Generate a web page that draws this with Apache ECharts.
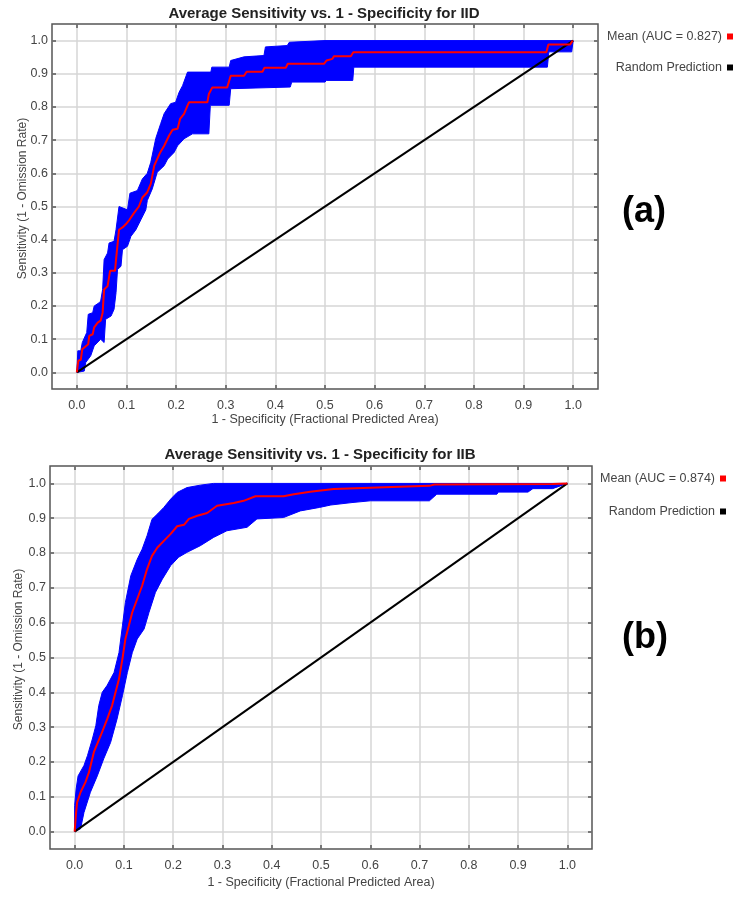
<!DOCTYPE html>
<html><head><meta charset="utf-8">
<script src="https://cdn.jsdelivr.net/npm/echarts@6/dist/echarts.min.js"></script>
<style>html,body{margin:0;padding:0;background:#fff}#c{width:745px;height:898px}</style>
</head><body><div id="c"></div>
<script>
// ---------- data ----------
const tickValues = [0, 0.1, 0.2, 0.3, 0.4, 0.5, 0.6, 0.7, 0.8, 0.9, 1.0];
const titleA = 'Average Sensitivity vs. 1 - Specificity for IID';
const titleB = 'Average Sensitivity vs. 1 - Specificity for IIB';
const xName = '1 - Specificity (Fractional Predicted Area)';
const yName = 'Sensitivity (1 - Omission Rate)';
const meanNameA = 'Mean (AUC = 0.827)';
const meanNameB = 'Mean (AUC = 0.874)';
const randomName = 'Random Prediction';
const randomLine = [[0, 0], [1, 1]];

const iidMean = [[0,0],[0.003,0.035],[0.008,0.038],[0.011,0.07],[0.023,0.085],[0.025,0.11],[0.032,0.115],[0.035,0.136],[0.042,0.15],[0.048,0.156],[0.052,0.18],[0.055,0.25],[0.062,0.26],[0.067,0.306],[0.077,0.306],[0.079,0.34],[0.085,0.43],[0.092,0.437],[0.099,0.447],[0.106,0.46],[0.115,0.48],[0.125,0.50],[0.132,0.527],[0.142,0.543],[0.149,0.568],[0.156,0.623],[0.168,0.663],[0.176,0.683],[0.186,0.714],[0.193,0.731],[0.203,0.734],[0.208,0.764],[0.216,0.779],[0.223,0.804],[0.226,0.814],[0.263,0.814],[0.266,0.839],[0.273,0.859],[0.303,0.859],[0.31,0.894],[0.337,0.894],[0.342,0.906],[0.374,0.906],[0.378,0.918],[0.421,0.918],[0.425,0.93],[0.498,0.93],[0.503,0.94],[0.515,0.945],[0.518,0.953],[0.552,0.953],[0.557,0.965],[0.946,0.965],[0.950,0.988],[0.994,0.988],[0.999,1.0]];
const iidUpper = [[0,0],[0.002,0.065],[0.008,0.065],[0.011,0.09],[0.02,0.12],[0.023,0.175],[0.032,0.18],[0.035,0.2],[0.045,0.21],[0.048,0.215],[0.052,0.25],[0.055,0.34],[0.062,0.36],[0.065,0.39],[0.075,0.395],[0.079,0.43],[0.085,0.5],[0.102,0.49],[0.107,0.54],[0.122,0.548],[0.132,0.583],[0.142,0.6],[0.149,0.633],[0.159,0.705],[0.169,0.75],[0.176,0.78],[0.189,0.81],[0.199,0.814],[0.206,0.844],[0.213,0.864],[0.223,0.905],[0.27,0.905],[0.272,0.92],[0.307,0.92],[0.31,0.94],[0.337,0.951],[0.377,0.955],[0.38,0.981],[0.424,0.985],[0.428,0.995],[0.5,1.0],[1.0,1.0]];
const iidLower = [[0,0],[0.015,0.004],[0.018,0.03],[0.028,0.05],[0.035,0.08],[0.048,0.1],[0.055,0.09],[0.058,0.16],[0.069,0.17],[0.075,0.19],[0.079,0.24],[0.082,0.31],[0.089,0.32],[0.092,0.37],[0.102,0.38],[0.109,0.41],[0.119,0.43],[0.129,0.46],[0.139,0.49],[0.142,0.518],[0.152,0.553],[0.162,0.603],[0.176,0.623],[0.183,0.643],[0.196,0.663],[0.203,0.683],[0.216,0.704],[0.233,0.719],[0.266,0.719],[0.269,0.805],[0.307,0.805],[0.31,0.855],[0.43,0.86],[0.433,0.875],[0.5,0.875],[0.503,0.88],[0.556,0.88],[0.558,0.92],[0.948,0.92],[0.951,0.966],[0.997,0.966],[1.0,1.0]];

const iibMean = [[0,0],[0.003,0.055],[0.005,0.084],[0.012,0.113],[0.022,0.142],[0.029,0.17],[0.039,0.228],[0.053,0.276],[0.066,0.323],[0.076,0.362],[0.083,0.4],[0.09,0.438],[0.097,0.496],[0.103,0.553],[0.11,0.591],[0.117,0.63],[0.127,0.668],[0.137,0.706],[0.147,0.754],[0.157,0.792],[0.168,0.816],[0.181,0.835],[0.195,0.855],[0.208,0.877],[0.222,0.881],[0.232,0.898],[0.249,0.907],[0.269,0.915],[0.289,0.936],[0.323,0.944],[0.343,0.95],[0.367,0.963],[0.424,0.963],[0.445,0.969],[0.478,0.976],[0.526,0.984],[0.614,0.988],[0.72,0.993],[0.73,0.997],[0.97,0.998],[1.0,1.0]];
const iibUpper = [[0,0],[0,0.075],[0.003,0.122],[0.007,0.16],[0.019,0.19],[0.026,0.218],[0.036,0.266],[0.043,0.304],[0.049,0.362],[0.056,0.4],[0.066,0.42],[0.08,0.457],[0.09,0.514],[0.097,0.591],[0.103,0.658],[0.114,0.735],[0.127,0.782],[0.137,0.811],[0.147,0.85],[0.157,0.897],[0.168,0.912],[0.181,0.931],[0.195,0.955],[0.208,0.974],[0.228,0.988],[0.255,0.995],[0.282,1.0],[1.0,1.0]];
const iibLower = [[0,0],[0.012,0.008],[0.019,0.055],[0.032,0.113],[0.046,0.16],[0.059,0.209],[0.073,0.256],[0.086,0.323],[0.097,0.39],[0.107,0.457],[0.117,0.514],[0.127,0.553],[0.141,0.582],[0.151,0.63],[0.164,0.687],[0.178,0.725],[0.195,0.764],[0.211,0.788],[0.228,0.802],[0.255,0.821],[0.282,0.845],[0.309,0.864],[0.35,0.874],[0.37,0.898],[0.424,0.902],[0.458,0.921],[0.497,0.931],[0.52,0.938],[0.563,0.945],[0.6,0.95],[0.72,0.95],[0.735,0.969],[0.857,0.969],[0.86,0.975],[0.92,0.975],[0.93,0.985],[0.97,0.985],[0.99,0.995],[1.0,1.0]];

// ---------- chart ----------
const FONT = 'Liberation Sans, Arial, sans-serif';
const chart = echarts.init(document.getElementById('c'), null, {renderer: 'canvas'});

const tickStyle = {show: true, inside: true, length: 4, customValues: tickValues, lineStyle: {color: '#555', width: 1.5}};
const gridLine = {show: true, lineStyle: {color: '#d6d6d6', width: 1.5}};

function makeX(gi, nameGap) {
  return [
    {type: 'value', gridIndex: gi, min: -0.05, max: 1.05, position: 'bottom',
     name: xName, nameLocation: 'middle', nameGap: nameGap, nameMoveOverlap: false,
     nameTextStyle: {color: '#444', fontSize: 12.5, fontFamily: FONT},
     axisLine: {show: false, onZero: false},
     axisTick: tickStyle,
     axisLabel: {customValues: tickValues, formatter: v => v.toFixed(1), margin: 10, color: '#444', fontSize: 12.5, fontFamily: FONT},
     splitLine: gridLine},
    {type: 'value', gridIndex: gi, min: -0.05, max: 1.05, position: 'top',
     axisLine: {show: false, onZero: false},
     axisTick: tickStyle,
     axisLabel: {show: false}, splitLine: {show: false}}
  ];
}
function makeY(gi, nameGap, shift) {
  return [
    {type: 'value', gridIndex: gi, min: -0.05, max: 1.05, position: 'left',
     name: yName, nameLocation: 'middle', nameGap: nameGap, nameMoveOverlap: false,
     nameTextStyle: {color: '#444', fontSize: 12, fontFamily: FONT, padding: [0, 0, 0, shift]},
     axisLine: {show: false, onZero: false},
     axisTick: tickStyle,
     axisLabel: {customValues: tickValues, formatter: v => v.toFixed(1), margin: 4, color: '#444', fontSize: 12.5, fontFamily: FONT},
     splitLine: gridLine},
    {type: 'value', gridIndex: gi, min: -0.05, max: 1.05, position: 'right',
     axisLine: {show: false, onZero: false},
     axisTick: tickStyle,
     axisLabel: {show: false}, splitLine: {show: false}}
  ];
}

function band(xi, yi, upper, lower) {
  return {
    type: 'custom', xAxisIndex: xi, yAxisIndex: yi, silent: true, z: 1,
    data: [[0, 0]],
    renderItem: function (params, api) {
      const pts = upper.map(p => api.coord(p)).concat(lower.slice().reverse().map(p => api.coord(p)));
      return {type: 'polygon', shape: {points: pts}, style: {fill: '#0000ff', stroke: '#0000ff', lineWidth: 1}};
    }
  };
}
function line(name, xi, yi, data, color, z) {
  return {type: 'line', name: name, xAxisIndex: xi, yAxisIndex: yi, data: data,
    showSymbol: false, symbol: 'none', z: z, silent: true,
    itemStyle: {color: color}, lineStyle: {color: color, width: 2}};
}

const option = {
  animation: false,
  backgroundColor: '#ffffff',
  grid: [
    {left: 52, top: 24, width: 546, height: 365, show: true, borderColor: '#555', borderWidth: 1.5, backgroundColor: 'transparent'},
    {left: 50, top: 466, width: 542, height: 383, show: true, borderColor: '#555', borderWidth: 1.5, backgroundColor: 'transparent'}
  ],
  xAxis: makeX(0, 24).concat(makeX(1, 27)),
  yAxis: makeY(0, 23, 16).concat(makeY(1, 25, 16)),
  legend: [
    {orient: 'vertical', right: 12, top: 30, align: 'right', padding: 0, itemWidth: 6, itemHeight: 6, itemGap: 18,
     icon: 'rect', selectedMode: false, data: [meanNameA, randomName],
     textStyle: {color: '#444', fontSize: 12.5, fontFamily: FONT}},
    {orient: 'vertical', right: 19, top: 472, align: 'right', padding: 0, itemWidth: 6, itemHeight: 6, itemGap: 20,
     icon: 'rect', selectedMode: false, data: [meanNameB, randomName],
     textStyle: {color: '#444', fontSize: 12.5, fontFamily: FONT}}
  ],
  graphic: [
    {type: 'text', x: 324, y: 14, style: {text: titleA, fill: '#222', font: 'bold 15px ' + FONT, textAlign: 'center', textVerticalAlign: 'middle'}},
    {type: 'text', x: 320, y: 455, style: {text: titleB, fill: '#222', font: 'bold 15px ' + FONT, textAlign: 'center', textVerticalAlign: 'middle'}},
    {type: 'text', x: 644, y: 212, style: {text: '(a)', fill: '#000', font: 'bold 36px ' + FONT, textAlign: 'center', textVerticalAlign: 'middle'}},
    {type: 'text', x: 645, y: 638, style: {text: '(b)', fill: '#000', font: 'bold 36px ' + FONT, textAlign: 'center', textVerticalAlign: 'middle'}}
  ],
  series: [
    band(0, 0, iidUpper, iidLower),
    line(randomName, 0, 0, randomLine, '#000000', 2),
    line(meanNameA, 0, 0, iidMean, '#ff0000', 3),
    band(2, 2, iibUpper, iibLower),
    line(randomName, 2, 2, randomLine, '#000000', 2),
    line(meanNameB, 2, 2, iibMean, '#ff0000', 3)
  ]
};
chart.setOption(option);
</script>
</body></html>
